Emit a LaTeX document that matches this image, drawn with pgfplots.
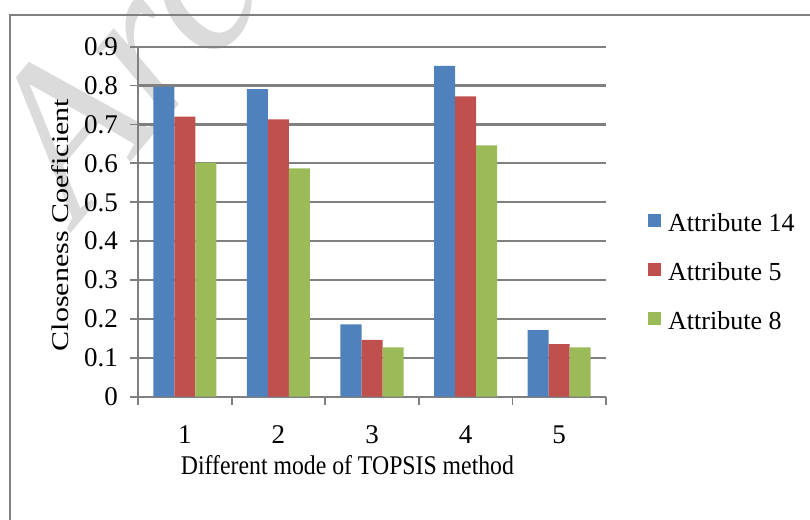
\documentclass[border=0pt]{standalone}
\usepackage{fontspec}
\setmainfont{Liberation Serif}
\newfontfamily\xlabfont{Liberation Serif}[FakeStretch=0.88]
\newfontfamily\ylabfont{Liberation Serif}[FakeStretch=1.25]
\usepackage{pgfplots}
\pgfplotsset{compat=1.18}
\definecolor{cblue}{HTML}{4F81BD}
\definecolor{cred}{HTML}{C0504D}
\definecolor{cgreen}{HTML}{9BBB59}
\definecolor{gridgray}{HTML}{808080}
\begin{document}
\begin{tikzpicture}[x=1bp,y=1bp]
\useasboundingbox (0,0) rectangle (810,520);
\begin{scope}
\clip (0,0) rectangle (810,520);
\node[rotate=50, anchor=base west, text=black!14, font=\fontsize{215bp}{215bp}\selectfont\itshape, inner sep=0pt] at (78,295) {Archive of SID};
\draw[gray, line width=1.5bp] (10,-20) rectangle (840,505);
\end{scope}
\begin{axis}[
  at={(138bp,123.3bp)}, anchor=south west,
  width=468bp, height=350bp, scale only axis,
  ybar=0pt, bar width=0.2244,
  xmin=0.5, xmax=5.5, ymin=0, ymax=0.9,
  axis x line*=bottom, axis y line*=left,
  axis line style={gridgray, line width=1.8bp, -},
  ymajorgrids, major grid style={gridgray, line width=2.2bp},
  tick align=outside, major tick length=8bp,
  tick style={gridgray, line width=1.8bp},
  ytick={0,0.1,0.2,0.3,0.4,0.5,0.6,0.7,0.8,0.9},
  yticklabels={0,0.1,0.2,0.3,0.4,0.5,0.6,0.7,0.8,0.9},
  xtick={0.5,1.5,2.5,3.5,4.5,5.5},
  xticklabels={},
  extra x ticks={1,2,3,4,5},
  extra x tick labels={1,2,3,4,5},
  extra x tick style={major tick length=0pt, grid=none},
  yticklabel style={font=\fontsize{27bp}{30bp}\selectfont, anchor=east, inner sep=0pt, xshift=-12bp},
  xticklabel style={font=\fontsize{27bp}{30bp}\selectfont, anchor=base, inner sep=0pt, yshift=-46.6bp},
  /pgf/number format/assume math mode=true,
  xlabel={\xlabfont\fontsize{27bp}{30bp}\selectfont Different mode of TOPSIS method},
  xlabel style={at={(axis description cs:0.4476,-0.2237)}, anchor=base, inner sep=0pt},
  ylabel={\ylabfont\fontsize{24bp}{28bp}\selectfont Closeness Coeficient},
  ylabel style={at={(axis description cs:-0.1667,0.4906)}, anchor=center, inner sep=0pt},
  legend style={at={(1.0897,0.356)}, anchor=west, draw=none, fill=none,
    font=\fontsize{26bp}{30bp}\selectfont, row sep=29.2bp, column sep=7bp,
    inner sep=0pt, nodes={inner sep=0pt}},
  legend cell align=left,
  legend image code/.code={\fill[#1] (0bp,-4bp) rectangle (13bp,9bp);},
]
\addplot[fill=cblue, draw=none] coordinates {(1,0.797) (2,0.791) (3,0.186) (4,0.851) (5,0.171)};
\addplot[fill=cred, draw=none] coordinates {(1,0.720) (2,0.713) (3,0.146) (4,0.772) (5,0.135)};
\addplot[fill=cgreen, draw=none] coordinates {(1,0.602) (2,0.587) (3,0.127) (4,0.646) (5,0.127)};
\legend{Attribute 14, Attribute 5, Attribute 8}
\end{axis}
\end{tikzpicture}
\end{document}
